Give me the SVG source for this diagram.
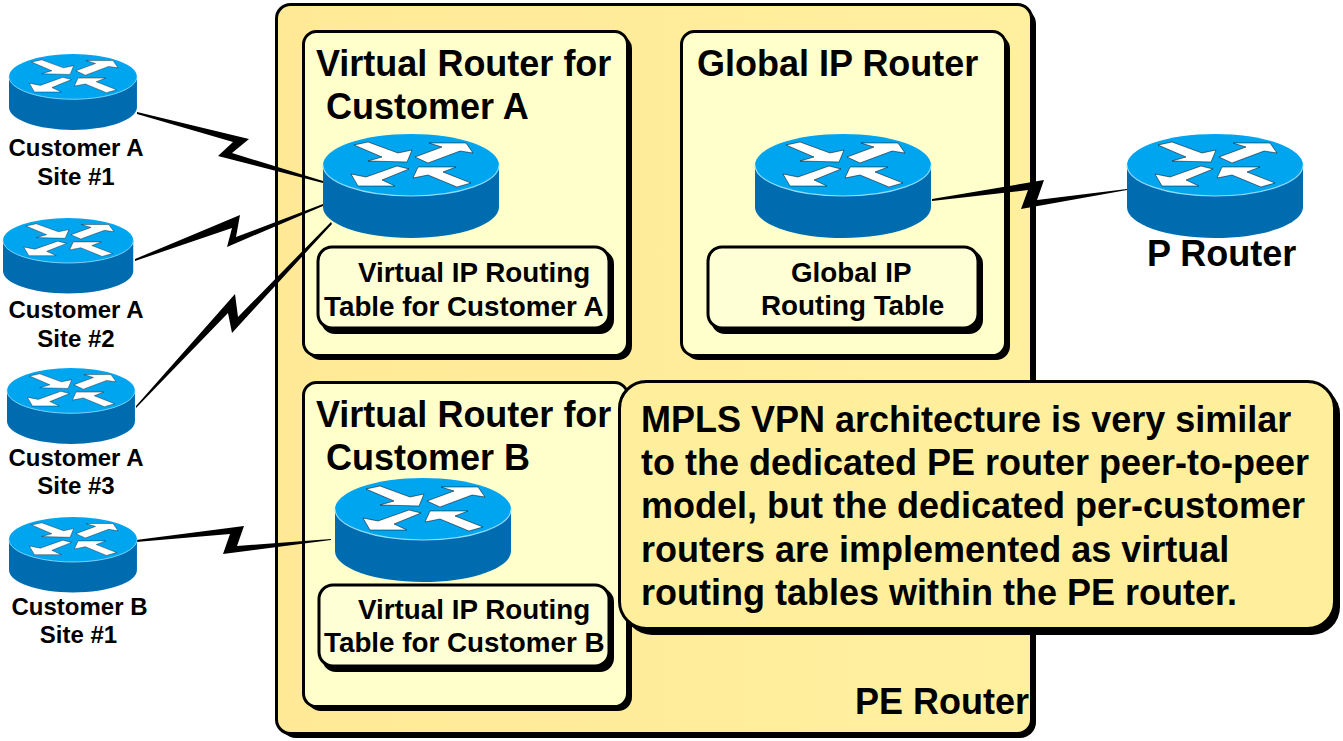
<svg xmlns="http://www.w3.org/2000/svg" width="1343" height="741" viewBox="0 0 1343 741">
<style>
text{font-family:"Liberation Sans",Arial,sans-serif;font-weight:700;fill:#000}
.t{font-size:36px}.m{font-size:27.800px}.s{font-size:24px}.c{font-size:36px}
.box{stroke:#000;stroke-width:3}
.shadow{fill:#000}
.bolt{fill:#000;stroke:none}
</style>
<defs>
<linearGradient id="peg" x1="0" x2="1" y1="0" y2="0"><stop offset="0" stop-color="#ffe997"/><stop offset="1" stop-color="#fff09f"/></linearGradient>
<g id="router">
<path d="M0 31V73C0 90 39 104 88 104S176 90 176 73V31Z" fill="#006cb0"/>
<ellipse cx="88" cy="31" rx="88" ry="31" fill="#00a5f0"/>
<path d="M0 31C0 48 39 62 88 62S176 48 176 31" fill="none" stroke="#8fdcff" stroke-width="1.200"/>
<g fill="#fff" stroke="#000" stroke-width=".5">
<path d="M31 11L45 8L75 19L89 16L84 28L45 27L59 23Z"/>
<path d="M92 23L119 13L106 9H143L150 19L137 17L105 29Z"/>
<path d="M28 40L43 43L74 32L86 35L59 46L72 52H35Z"/>
<path d="M90 44L95 33H133L120 38L148 49L134 53L105 41Z"/>
</g>
</g>
</defs>
<rect width="1343" height="741" fill="#fff"/>
<g id="pe-router">
<rect class="shadow" x="280" y="8" width="756" height="730" rx="16"/>
<rect class="box" x="276.500" y="4.500" width="755" height="729" rx="14" fill="url(#peg)"/>
<text class="t" x="855" y="714">PE Router</text>
</g>
<g id="vr-a">
<rect class="shadow" x="307" y="35" width="325" height="325" rx="14"/>
<rect class="box" x="303.500" y="31.500" width="324" height="324" rx="13" fill="#ffffcc"/>
<text class="t" x="316" y="76">Virtual Router for</text>
<text class="t" x="326" y="119">Customer A</text>
</g>
<g id="table-a">
<rect class="shadow" x="321" y="250" width="293" height="84" rx="14"/>
<rect class="box" x="318" y="247" width="291" height="81" rx="14" fill="#ffffd6"/>
<text class="m" x="358" y="282">Virtual IP Routing</text>
<text class="m" x="324" y="316">Table for Customer A</text>
</g>
<g id="global">
<rect class="shadow" x="685" y="35" width="325" height="325" rx="14"/>
<rect class="box" x="681.500" y="31.500" width="324" height="324" rx="13" fill="#ffffcc"/>
<text class="t" x="697" y="76">Global IP Router</text>
</g>
<g id="table-g">
<rect class="shadow" x="711" y="250" width="272" height="84" rx="14"/>
<rect class="box" x="708" y="247" width="270" height="81" rx="14" fill="#ffffd6"/>
<text class="m" x="791" y="282">Global IP</text>
<text class="m" x="761" y="315">Routing Table</text>
</g>
<g id="vr-b">
<rect class="shadow" x="307" y="386" width="325" height="325" rx="14"/>
<rect class="box" x="303.500" y="382.500" width="324" height="324" rx="13" fill="#ffffcc"/>
<text class="t" x="316" y="427">Virtual Router for</text>
<text class="t" x="326" y="470">Customer B</text>
</g>
<g id="table-b">
<rect class="shadow" x="322" y="588" width="292" height="84" rx="14"/>
<rect class="box" x="319" y="585" width="290" height="81" rx="14" fill="#ffffd6"/>
<text class="m" x="358" y="619">Virtual IP Routing</text>
<text class="m" x="324" y="652">Table for Customer B</text>
</g>
<g id="connectors">
<path class="bolt" d="M137 112L249 139L232 153L323 181V183L218 156L233 142L137 114Z"/>
<path class="bolt" d="M135 259L240 215L236 237L323 204V206L227 247L232 228L135 261Z"/>
<path class="bolt" d="M136 406L235 294L238 317L331 222L332 224L232 333L228 313L136 408Z"/>
<path class="bolt" d="M136 540L244 526L237 546L331 539V540L223 554L230 534L136 542Z"/>
<path class="bolt" d="M932 199L1044 180L1037 200L1127 189V190L1021 209L1028 190L932 201Z"/>
</g>
<g id="router-a1"><use href="#router" transform="translate(9 54) scale(.727 .73)"/><text class="s" x="76" y="156" text-anchor="middle">Customer A</text><text class="s" x="76" y="185" text-anchor="middle">Site #1</text></g>
<g id="router-a2"><use href="#router" transform="translate(3 218) scale(.74 .725)"/><text class="s" x="76" y="318" text-anchor="middle">Customer A</text><text class="s" x="76" y="347" text-anchor="middle">Site #2</text></g>
<g id="router-a3"><use href="#router" transform="translate(7 368) scale(.727 .73)"/><text class="s" x="76" y="466" text-anchor="middle">Customer A</text><text class="s" x="76" y="494" text-anchor="middle">Site #3</text></g>
<g id="router-b1"><use href="#router" transform="translate(9 517) scale(.727 .725)"/><text class="s" x="79.500" y="615" text-anchor="middle">Customer B</text><text class="s" x="78.500" y="643" text-anchor="middle">Site #1</text></g>
<g id="router-va"><use href="#router" x="323" y="134"/></g>
<g id="router-vb"><use href="#router" x="335" y="478"/></g>
<g id="router-global"><use href="#router" x="755" y="134"/></g>
<g id="router-p"><use href="#router" x="1127" y="134"/><text class="c" x="1147" y="266">P Router</text></g>
<g id="callout">
<rect class="shadow" x="624" y="386" width="716" height="249" rx="28"/>
<rect class="box" x="619.500" y="381.500" width="715" height="247" rx="27" fill="#ffef9c"/>
<text class="c" x="641" y="432">MPLS VPN architecture is very similar</text>
<text class="c" x="641" y="475">to the dedicated PE router peer-to-peer</text>
<text class="c" x="641" y="518">model, but the dedicated per-customer</text>
<text class="c" x="641" y="562">routers are implemented as virtual</text>
<text class="c" x="641" y="605">routing tables within the PE router.</text>
</g>
</svg>
